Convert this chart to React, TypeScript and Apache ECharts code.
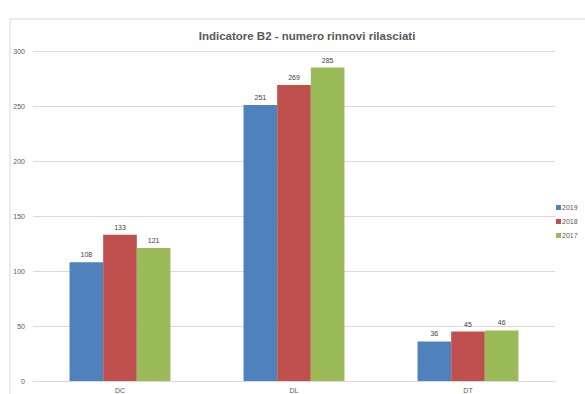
import React, { useEffect, useRef } from "react";
import * as echarts from "echarts";

const categories = ["DC", "DL", "DT"];
const years = ["2019", "2018", "2017"];
const values2019 = [108, 251, 36];
const values2018 = [133, 269, 45];
const values2017 = [121, 285, 46];
const colors = ["#4f81bd", "#c0504d", "#9bbb59"];

export default function App() {
  const ref = useRef<HTMLDivElement>(null);
  useEffect(() => {
    if (!ref.current) return;
    const chart = echarts.init(ref.current, undefined, { renderer: "svg" });
    const seriesData = [values2019, values2018, values2017];
    chart.setOption({
      animation: false,
      backgroundColor: "#ffffff",
      textStyle: { fontFamily: "Liberation Sans" },
      title: {
        text: "Indicatore B2 - numero rinnovi rilasciati",
        left: 302,
        top: 25,
        textAlign: "center",
        textStyle: {
          fontFamily: "Liberation Sans",
          fontSize: 11.5,
          fontWeight: "bold",
          color: "#595959",
        },
      },
      graphic: [
        {
          type: "rect",
          shape: { x: 10, y: 19, width: 600, height: 400 },
          style: { fill: "none", stroke: "#d9d9d9", lineWidth: 1 },
          silent: true,
        },
      ],
      legend: {
        orient: "vertical",
        left: 556,
        top: 204,
        padding: 0,
        itemWidth: 5,
        itemHeight: 5,
        itemGap: 7,
        icon: "rect",
        textStyle: { fontSize: 7, color: "#595959", padding: [0, 0, 0, -4] },
        data: years,
      },
      grid: { left: 33, right: 30, top: 51, bottom: 12, containLabel: false },
      xAxis: {
        type: "category",
        data: categories,
        axisTick: { show: false },
        axisLine: { lineStyle: { color: "#d9d9d9" } },
        axisLabel: { fontSize: 7, color: "#595959", margin: 6 },
      },
      yAxis: {
        type: "value",
        min: 0,
        max: 300,
        interval: 50,
        axisLine: { show: false },
        axisTick: { show: false },
        splitLine: { lineStyle: { color: "#d9d9d9" } },
        axisLabel: { fontSize: 7, color: "#595959", margin: 8 },
      },
      series: years.map((y, i) => ({
        name: y,
        type: "bar",
        data: seriesData[i],
        barGap: "0%",
        barCategoryGap: "42%",
        itemStyle: { color: colors[i] },
        label: {
          show: true,
          position: "top",
          fontSize: 7,
          color: "#404040",
          distance: 4,
        },
      })),
    });
    return () => chart.dispose();
  }, []);
  return <div ref={ref} style={{ width: 585, height: 394, position: "absolute", left: 0, top: 0 }} />;
}
